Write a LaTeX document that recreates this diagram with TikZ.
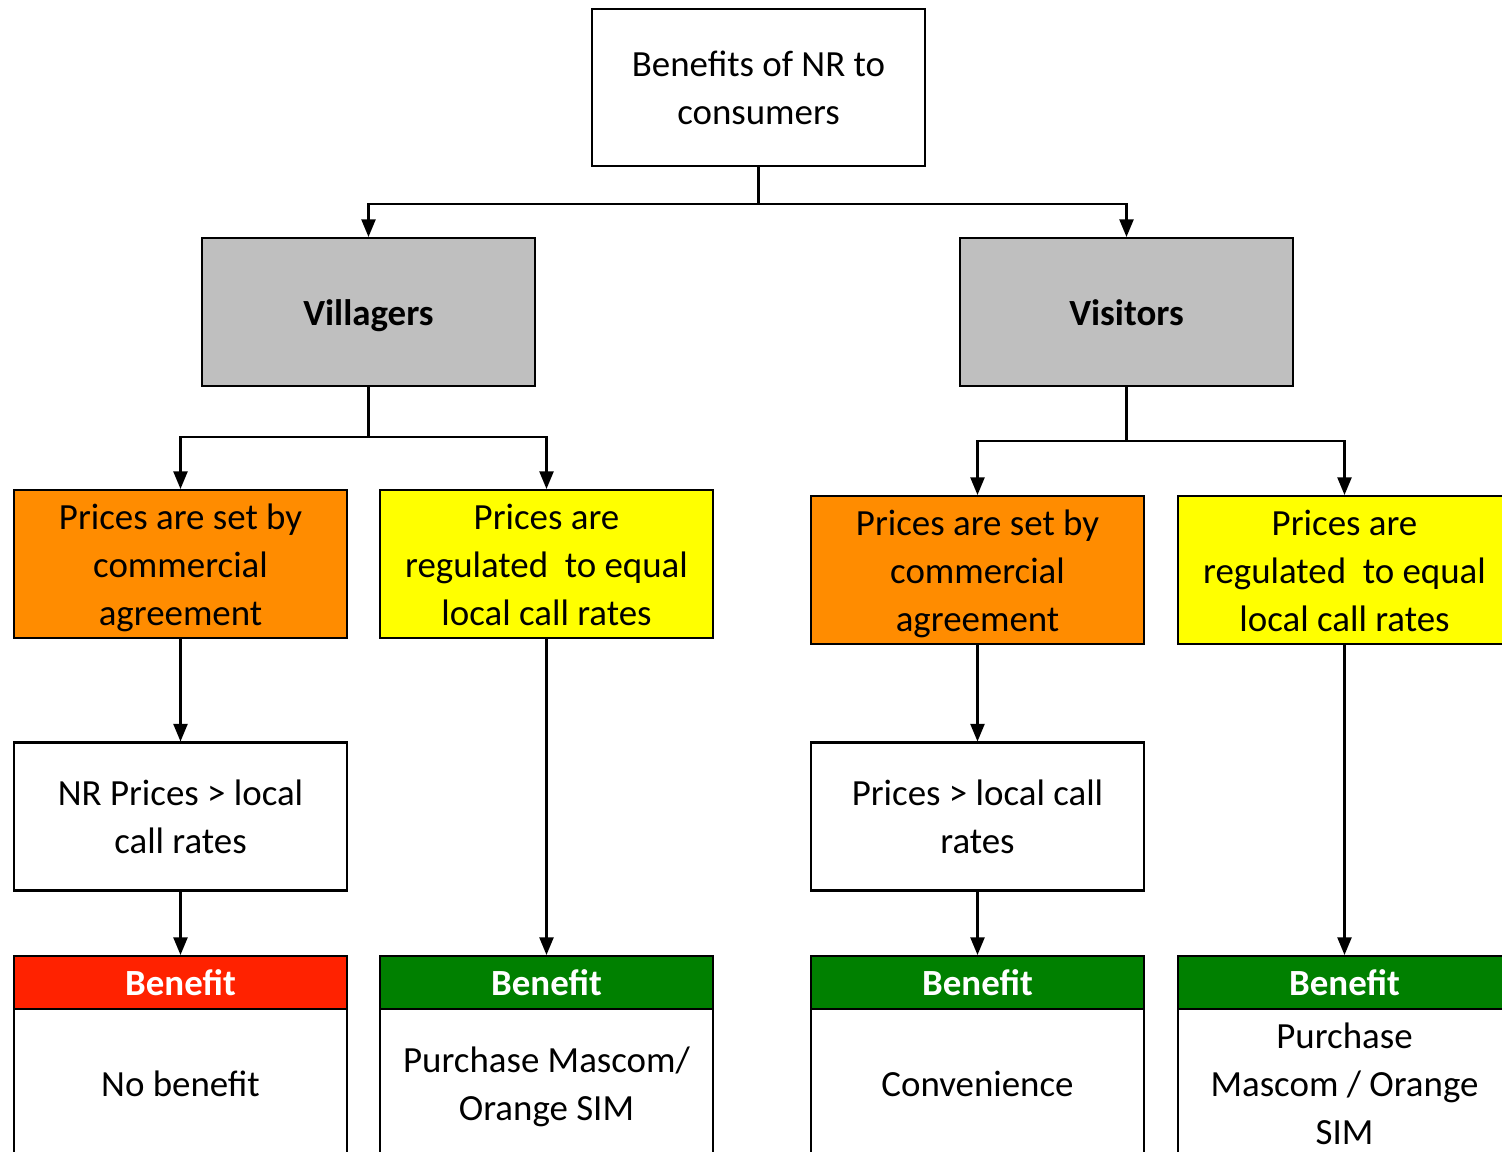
\documentclass[tikz,border=0pt]{standalone}
\usepackage{fontspec}
\setmainfont{Carlito}
\usetikzlibrary{arrows.meta}
\definecolor{gris1}{RGB}{191,191,191}
\definecolor{naranja1}{RGB}{255,140,0}
\definecolor{amarillo1}{RGB}{255,255,0}
\definecolor{rojo1}{RGB}{255,34,0}
\definecolor{verde1}{RGB}{0,128,0}
\newcommand{\puntal}{\rule[-6pt]{0pt}{27.3pt}}
\begin{document}
\begin{tikzpicture}[x=0.02cm,y=-0.02cm]

\tikzset{caja/.style={rectangle,draw,line width=1.2pt,minimum width=6.66cm,minimum height=2.96cm,inner sep=0pt,text width=6.3cm,align=flush center,font=\fontsize{21}{27.3}\selectfont,execute at begin node=\puntal,execute at end node=\puntal}}
\tikzset{gris/.style={caja,fill=gris1,font=\fontsize{21}{27.3}\selectfont\bfseries}}
\tikzset{naranja/.style={caja,fill=naranja1}}
\tikzset{amarillo/.style={caja,fill=amarillo1}}
\tikzset{cabeza/.style={caja,minimum height=1.06cm,text=white,font=\fontsize{21}{27.3}\selectfont\bfseries}}
\tikzset{flecha/.style={-{Triangle[width=8pt,length=10pt]},line width=1.2pt}}

\useasboundingbox (0,0) rectangle (1502,1152);

\draw (758.5,87.5) node[caja,minimum height=3.14cm](nr) {Benefits of NR to\\consumers};

\draw (368.5,312) node[gris](vil) {Villagers};
\draw (1126.5,312) node[gris](vis) {Visitors};

\draw (180.5,564) node[naranja](cv) {Prices are set by\\commercial\\agreement};
\draw (546.5,564) node[amarillo](rv) {Prices are\\regulated~ to equal\\local call rates};
\draw (977.5,570) node[naranja](cw) {Prices are set by\\commercial\\agreement};
\draw (1344.5,570) node[amarillo](rw) {Prices are\\regulated~ to equal\\local call rates};

\draw (180.5,816.5) node[caja](pv) {NR Prices > local\\call rates};
\draw (977.5,816.5) node[caja](pw) {Prices > local call\\rates};

\draw (180.5,1083) node[caja](b1) {No benefit};
\draw (546.5,1083) node[caja](b2) {Purchase Mascom/\\Orange SIM};
\draw (977.5,1083) node[caja](b3) {Convenience};
\draw (1344.5,1083) node[caja](b4) {Purchase\\Mascom / Orange\\SIM};

\draw (180.5,982.5) node[cabeza,fill=rojo1](h1) {Benefit};
\draw (546.5,982.5) node[cabeza,fill=verde1](h2) {Benefit};
\draw (977.5,982.5) node[cabeza,fill=verde1](h3) {Benefit};
\draw (1344.5,982.5) node[cabeza,fill=verde1](h4) {Benefit};

\draw[flecha] (nr.south) -- ++(0,37) -| (vil.north);
\draw[flecha] (nr.south) -- ++(0,37) -| (vis.north);
\draw[flecha] (vil.south) -- ++(0,50) -| (cv.north);
\draw[flecha] (vil.south) -- ++(0,50) -| (rv.north);
\draw[flecha] (vis.south) -- ++(0,54) -| (cw.north);
\draw[flecha] (vis.south) -- ++(0,54) -| (rw.north);
\draw[flecha] (cv.south) -- (pv.north);
\draw[flecha] (cw.south) -- (pw.north);
\draw[flecha] (pv.south) -- (h1.north);
\draw[flecha] (rv.south) -- (h2.north);
\draw[flecha] (pw.south) -- (h3.north);
\draw[flecha] (rw.south) -- (h4.north);

\end{tikzpicture}
\end{document}
